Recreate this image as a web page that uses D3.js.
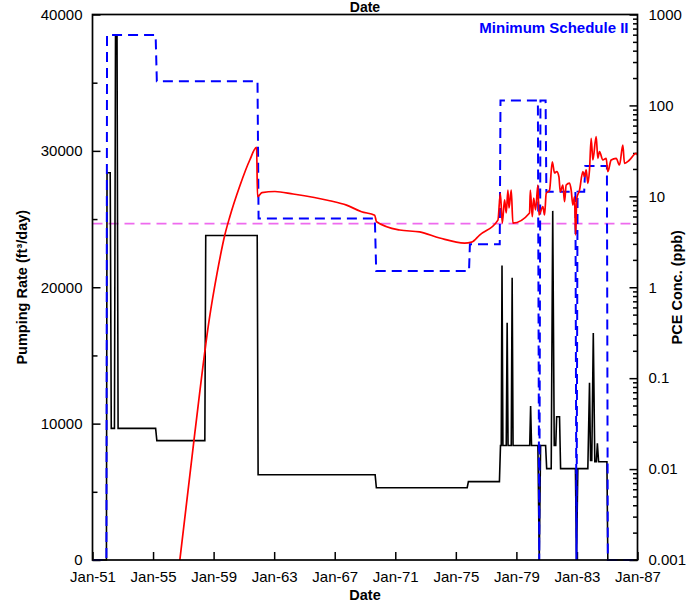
<!DOCTYPE html>
<html>
<head>
<meta charset="utf-8">
<script src="https://cdn.jsdelivr.net/npm/d3@7"></script>
<style>
  html, body { margin: 0; padding: 0; background: #fff; }
  svg { display: block; }
  text { font-family: "Liberation Sans", Arial, Helvetica, sans-serif; }
</style>
</head>
<body>
<svg id="chart" width="687" height="604"></svg>
<script>
// Pumping rate, ft3/day, as [decimal year, rate]
const pumping = [
  [1951.00, 0], [1951.92, 0], [1951.96, 28400], [1952.17, 28400], [1952.24, 9650],
  [1952.45, 9650], [1952.52, 38500], [1952.62, 38500], [1952.69, 9650],
  [1955.17, 9650], [1955.25, 8750], [1958.42, 8750], [1958.48, 23800],
  [1961.88, 23800], [1961.94, 6250], [1969.67, 6250], [1969.75, 5300],
  [1975.75, 5300], [1975.83, 5750], [1977.88, 5750], [1977.95, 8400],
  [1978.00, 8400], [1978.05, 21600], [1978.11, 8400], [1978.33, 8400],
  [1978.39, 17400], [1978.45, 8400], [1978.66, 8400], [1978.72, 20700],
  [1978.78, 8400], [1979.88, 8400], [1979.94, 11300], [1980.00, 8400],
  [1980.42, 8400], [1980.51, 0], [1980.60, 8400], [1980.93, 8400],
  [1981.00, 6700], [1981.30, 6700], [1981.40, 25600], [1981.50, 8400],
  [1981.60, 8400], [1981.66, 10500], [1981.85, 10500], [1981.92, 6700],
  [1982.90, 6700], [1982.97, 0], [1983.06, 6700], [1983.72, 6700],
  [1983.83, 13000], [1983.90, 7300], [1983.98, 7300], [1984.08, 16650],
  [1984.18, 7200], [1984.28, 7200], [1984.35, 8550], [1984.43, 7200],
  [1984.98, 7200], [1985.04, 0], [1987.00, 0]
];

// Minimum Schedule II pumping rate, ft3/day
const schedule = [
  [1951.00, 0], [1951.92, 0], [1951.96, 38500], [1955.17, 38500], [1955.25, 35100],
  [1961.90, 35100], [1961.97, 25050], [1969.65, 25050], [1969.74, 21200],
  [1975.87, 21200], [1975.93, 23150], [1977.90, 23150], [1977.95, 33700],
  [1980.42, 33700], [1980.51, 0], [1980.59, 33700], [1980.93, 33700],
  [1980.98, 27000], [1982.90, 27000], [1982.97, 0], [1983.04, 27000],
  [1983.48, 27000], [1983.55, 28900], [1984.98, 28900], [1985.04, 0],
  [1987.00, 0]
];

// PCE concentration, ppb
const pce = [
  [1956.77, 0.001], [1957.76, 0.025], [1958.71, 0.44], [1959.22, 1.4],
  [1959.74, 3.76], [1960.07, 5.97], [1960.73, 13.0], [1961.39, 25.1],
  [1961.84, 34.6], [1961.90, 9.9], [1962.19, 11.0], [1963.05, 11.3],
  [1964.25, 10.6], [1966.67, 8.95], [1967.78, 8.0], [1968.77, 6.77],
  [1969.64, 6.2], [1969.76, 5.25], [1971.29, 4.26], [1972.61, 4.06],
  [1973.93, 3.48], [1975.58, 3.06], [1976.04, 3.13], [1976.57, 3.75],
  [1977.78, 5.48], [1977.94, 10.8], [1978.07, 5.08], [1978.22, 9.12],
  [1978.33, 6.56], [1978.44, 11.7], [1978.51, 7.44], [1978.66, 11.7],
  [1978.77, 5.08], [1979.87, 6.56], [1979.92, 11.7], [1980.05, 5.97],
  [1980.14, 9.59], [1980.27, 7.07], [1980.42, 13.3], [1980.49, 6.24],
  [1980.75, 7.69], [1980.86, 6.24], [1980.97, 10.8], [1981.19, 11.7],
  [1981.37, 24.0], [1981.52, 18.1], [1981.67, 18.7], [1981.81, 16.4],
  [1981.90, 11.2], [1982.07, 13.3], [1982.18, 8.73], [1982.29, 13.3],
  [1982.51, 14.0], [1982.62, 11.7], [1982.73, 8.02], [1982.84, 9.9],
  [1982.91, 3.76], [1982.99, 9.51], [1983.17, 11.7], [1983.39, 18.7],
  [1983.50, 16.4], [1983.61, 19.5], [1983.72, 13.9], [1983.83, 19.5],
  [1983.94, 43.5], [1984.05, 25.1], [1984.27, 45.3], [1984.38, 26.2],
  [1984.49, 31.0], [1984.71, 25.1], [1984.93, 26.2], [1985.04, 18.7],
  [1985.26, 25.1], [1985.59, 26.2], [1985.81, 22.1], [1986.03, 36.6],
  [1986.14, 23.1], [1986.47, 25.1], [1986.91, 29.7], [1987.00, 28.5]
];

// PCE standard, ppb
const pceLimit = 5;

// Axis ticks
const dateTicks = [1951, 1955, 1959, 1963, 1967, 1971, 1975, 1979, 1983, 1987];
const rateTicks = [0, 10000, 20000, 30000, 40000];
const rateMinorTicks = [5000, 15000, 25000, 35000];
const concTicks = [0.001, 0.01, 0.1, 1, 10, 100, 1000];
const concTickLabels = ["0.001", "0.01", "0.1", "1", "10", "100", "1000"];

const svg = d3.select("#chart");
const m = { left: 92.5, right: 49.5, top: 14.5, bottom: 44 };
const W = 687 - m.left - m.right;
const H = 604 - m.top - m.bottom;

const x = d3.scaleLinear().domain([1951, 1987]).range([0, W]);
const yL = d3.scaleLinear().domain([0, 40000]).range([H, 0]);
const yR = d3.scaleLog().domain([0.001, 1000]).range([H, 0]);

const g = svg.append("g").attr("transform", `translate(${m.left},${m.top})`);

g.append("defs").append("clipPath").attr("id", "plot-clip")
  .append("rect").attr("x", 0).attr("y", -1).attr("width", W).attr("height", H + 2);

const FONT = 15;

// Left axis: major ticks with labels, minor ticks without
g.append("g")
  .call(d3.axisLeft(yL).tickValues(rateTicks).tickSize(-8).tickPadding(10).tickFormat(d3.format("d")));
g.append("g")
  .call(d3.axisLeft(yL).tickValues(rateMinorTicks).tickSize(-5).tickFormat(""));

// Right axis (log)
const minorConc = [];
concTicks.slice(0, -1).forEach(d => { for (let k = 2; k <= 9; k++) minorConc.push(d * k); });
g.append("g").attr("transform", `translate(${W},0)`)
  .call(d3.axisRight(yR).tickValues(concTicks).tickSize(-8).tickPadding(11)
    .tickFormat((d, i) => concTickLabels[i]));
g.append("g").attr("transform", `translate(${W},0)`)
  .call(d3.axisRight(yR).tickValues(minorConc).tickSize(-4.5).tickFormat(""));

// Bottom axis
g.append("g").attr("transform", `translate(0,${H})`)
  .call(d3.axisBottom(x).tickValues(dateTicks).tickSize(-8).tickPadding(11)
    .tickFormat(d => "Jan-" + String(d).slice(2)));

g.selectAll(".domain").remove();
g.selectAll(".tick line").attr("stroke", "#000").attr("stroke-width", 1.5);
g.selectAll(".tick text").attr("font-size", FONT).attr("fill", "#000")
  .attr("font-family", '"Liberation Sans", Arial, sans-serif');

const plot = g.append("g").attr("clip-path", "url(#plot-clip)");

// PCE standard line
plot.append("line")
  .attr("x1", 0).attr("x2", W)
  .attr("y1", yR(pceLimit)).attr("y2", yR(pceLimit))
  .attr("stroke", "#ee6aee").attr("stroke-width", 1.7)
  .attr("stroke-dasharray", "10,6");

// Pumping rate
plot.append("path").datum(pumping)
  .attr("fill", "none").attr("stroke", "#000").attr("stroke-width", 1.6)
  .attr("stroke-linejoin", "miter")
  .attr("d", d3.line().x(d => x(d[0])).y(d => yL(d[1])));

// Minimum Schedule II
plot.append("path").datum(schedule)
  .attr("fill", "none").attr("stroke", "#0000ff").attr("stroke-width", 2)
  .attr("stroke-dasharray", "10,6")
  .attr("d", d3.line().x(d => x(d[0])).y(d => yL(d[1])));

// PCE concentration
plot.append("path").datum(pce)
  .attr("fill", "none").attr("stroke", "#ff0000").attr("stroke-width", 1.7)
  .attr("stroke-linejoin", "round")
  .attr("d", d3.line().x(d => x(d[0])).y(d => yR(d[1])).curve(d3.curveMonotoneX));

// Frame
g.append("rect").attr("x", 0).attr("y", 0).attr("width", W).attr("height", H)
  .attr("fill", "none").attr("stroke", "#000").attr("stroke-width", 1.7);

// Legend text
g.append("text")
  .attr("x", W - 9).attr("y", 18)
  .attr("text-anchor", "end")
  .attr("font-size", 15).attr("font-weight", "bold").attr("fill", "#0000ff")
  .text("Minimum Schedule II");

// Axis titles
svg.append("text")
  .attr("x", m.left + W / 2).attr("y", 12)
  .attr("text-anchor", "middle").attr("font-size", 14).attr("font-weight", "bold")
  .text("Date");
svg.append("text")
  .attr("x", m.left + W / 2).attr("y", 600)
  .attr("text-anchor", "middle").attr("font-size", 14.5).attr("font-weight", "bold")
  .text("Date");
svg.append("text")
  .attr("transform", `translate(27,${m.top + H / 2}) rotate(-90)`)
  .attr("text-anchor", "middle").attr("font-size", 14.5).attr("font-weight", "bold")
  .text("Pumping Rate (ft³/day)");
svg.append("text")
  .attr("transform", `translate(682,${m.top + H / 2}) rotate(-90)`)
  .attr("text-anchor", "middle").attr("font-size", 14.5).attr("font-weight", "bold")
  .text("PCE Conc. (ppb)");
</script>
</body>
</html>
